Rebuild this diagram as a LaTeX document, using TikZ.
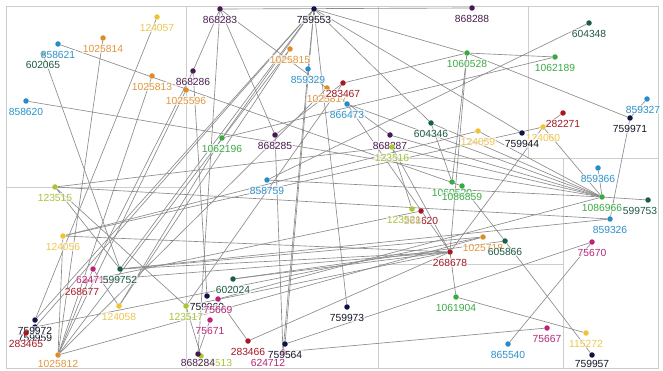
\documentclass[tikz,border=0pt]{standalone}
\usepackage{fontspec}
\setmainfont{Liberation Sans}
\usetikzlibrary{calc}
\pgfdeclarelayer{bg}
\pgfsetlayers{bg,main}
\definecolor{cN}{RGB}{15,20,70}   \definecolor{cNt}{RGB}{20,20,40}
\definecolor{cP}{RGB}{70,25,80}   \definecolor{cPt}{RGB}{75,30,80}
\definecolor{cO}{RGB}{222,140,40} \definecolor{cOt}{RGB}{225,150,60}
\definecolor{cY}{RGB}{240,195,55} \definecolor{cYt}{RGB}{238,198,80}
\definecolor{cB}{RGB}{40,140,200} \definecolor{cBt}{RGB}{45,145,200}
\definecolor{cDG}{RGB}{25,95,65}  \definecolor{cDGt}{RGB}{30,90,65}
\definecolor{cG}{RGB}{55,170,65}  \definecolor{cGt}{RGB}{60,170,70}
\definecolor{cYG}{RGB}{165,200,50}\definecolor{cYGt}{RGB}{170,195,60}
\definecolor{cR}{RGB}{165,25,35}  \definecolor{cRt}{RGB}{160,25,35}
\definecolor{cM}{RGB}{190,35,120} \definecolor{cMt}{RGB}{180,40,120}
\definecolor{edgegray}{RGB}{140,140,140}
\definecolor{gridgray}{RGB}{205,205,205}
\tikzset{
  dot/.style={circle,inner sep=0pt,minimum size=5.5pt,draw=none},
  lbl/.style={inner sep=0.6pt,fill=white,fill opacity=0.65,text opacity=1,
    font=\fontsize{10.3}{12}\selectfont},
  edge/.style={draw=edgegray,line width=0.65pt},
  gridline/.style={draw=gridgray,line width=0.8pt}
}
\newcommand\N[6]{%
  \node[dot,fill=c#4] (n#1) at (#2,#3) {};
  \node[lbl,text=c#4t] (t#1) at (#2+#5,#3+#6) {#1};}
\begin{document}
\begin{tikzpicture}[x=1pt,y=-1pt]
\useasboundingbox (0,0) rectangle (663,371);
% nodes
\N{759553}{314}{9}{N}{0}{10.5}
\N{868283}{220}{9}{P}{0}{10.5}
\N{868288}{472}{8}{P}{0}{10.5}
\N{124057}{157}{17}{Y}{0}{10.5}
\N{1025814}{103}{38}{O}{0}{10.5}
\N{602065}{43}{54}{DG}{0}{11}
\N{858621}{58}{44}{B}{0}{10.5}
\N{1025815}{290}{49}{O}{0}{10.5}
\N{1060528}{467}{53}{G}{0}{10.5}
\N{604348}{589}{23}{DG}{0}{10.5}
\N{1062189}{555}{57}{G}{0}{11}
\N{1025813}{152}{76}{O}{0}{10.5}
\N{868286}{193}{71}{P}{0}{10.5}
\N{859329}{308}{69}{B}{0}{10.5}
\N{1025596}{186}{90}{O}{0}{10.5}
\N{1025817}{327}{88}{O}{0}{10.5}
\N{283467}{343}{83}{R}{0}{10.5}
\N{866473}{347}{104}{B}{0}{10.5}
\N{858620}{26}{101}{B}{0}{11}
\N{859327}{647}{99}{B}{-4}{10.5}
\N{282271}{563}{113}{R}{0}{10.5}
\N{759971}{630}{118}{N}{0}{10.5}
\N{124060}{543}{127}{Y}{0}{10.5}
\N{759944}{522}{133}{N}{0}{10.5}
\N{604346}{431}{123}{DG}{0}{10.5}
\N{124059}{478}{131}{Y}{0}{10.5}
\N{868287}{390}{135}{P}{0}{10.5}
\N{123516}{392}{147}{YG}{0}{10.5}
\N{1062196}{222}{138}{G}{0}{10.5}
\N{868285}{275}{135}{P}{0}{10.5}
\N{858759}{267}{180}{B}{0}{10.5}
\N{859366}{598}{168}{B}{0}{10.5}
\N{1060520}{452}{182}{G}{0}{10.5}
\N{1086859}{462}{186}{G}{0}{10.5}
\N{1086966}{602}{197}{G}{0}{10.5}
\N{599753}{648}{200}{DG}{-8}{10.5}
\N{859326}{610}{219}{B}{0}{10.5}
\N{123515}{55}{187}{YG}{0}{10.5}
\N{268620}{421}{211}{R}{0}{10}
\N{123521}{412}{209}{YG}{-8}{11}
\N{1025718}{483}{237}{O}{0}{10.5}
\N{605866}{505}{241}{DG}{0}{11}
\N{75670}{592}{242}{M}{0}{10.5}
\N{124056}{63}{236}{Y}{0}{10.5}
\N{268678}{450}{252}{R}{0}{10.5}
\N{268677}{86}{281}{R}{-4}{11}
\N{624711}{93}{269}{M}{0}{10.5}
\N{599752}{120}{269}{DG}{0}{10.5}
\N{124058}{119}{306}{Y}{0}{10.5}
\N{602024}{233}{279}{DG}{0}{10.5}
\N{759960}{207}{296}{N}{0}{10.5}
\N{75669}{218}{299}{M}{0}{10.5}
\N{123517}{186}{306}{YG}{0}{10.5}
\N{759973}{347}{307}{N}{0}{10.5}
\N{1061904}{456}{297}{G}{0}{10.5}
\N{75671}{210}{320}{M}{0}{10.5}
\N{759959}{35}{327}{N}{0}{10.5}
\N{759972}{35}{320}{N}{0}{10.5}
\N{283465}{26}{333}{R}{0}{11}
\N{283466}{248}{341}{R}{0}{10.5}
\N{624712}{283}{352}{M}{-15}{10.5}
\N{759564}{285}{344}{N}{0}{10.5}
\N{123513}{201}{356}{YG}{14}{6.5}
\N{868284}{198}{354}{P}{0}{9}
\N{1025812}{58}{355}{O}{0}{9}
\N{865540}{508}{344}{B}{0}{10.5}
\N{75667}{547}{328}{M}{0}{10.5}
\N{115272}{586}{333}{Y}{0}{10.5}
\N{759957}{592}{355}{N}{0}{9}
\begin{pgfonlayer}{bg}
\fill[white] (0,0) rectangle (663,371);
% grid
\draw[gridline] (6,6) rectangle (658,368);
\draw[gridline] (186,6) -- (186,368);
\draw[gridline] (378,6) -- (378,368);
\draw[gridline] (528,6) -- (528,158);
\draw[gridline] (378,158) -- (658,158);
\draw[gridline] (563,158) -- (563,368);
\draw[gridline] (378,264) -- (563,264);
\draw[gridline] (6,187) -- (186,187);
% edges
\foreach \a/\b in {858621/1086859, 602065/599752, 1025814/1025812, 124057/759972,
  1025813/1025812, 858620/1086966, 868283/868286, 868283/868285, 868283/868287,
  868283/868288, 868283/868284, 759553/759972, 759553/759959, 759553/759564,
  759553/759973, 759553/759944, 759553/859329, 759553/604346, 759553/1060528,
  759553/1062196, 759553/599752, 1025815/1025812, 1025815/124058, 1025596/1025812,
  859329/624712, 866473/268678, 866473/1086966, 283467/1060528, 1062196/1062189,
  1060528/1062189, 1060528/1060520, 1060528/268678, 1060528/759971, 604348/858759,
  858759/1086966, 123516/1086966, 604346/1086966, 868287/1086966, 123515/123516,
  123515/859326, 123515/599752, 123515/123517, 124056/124059, 124056/124060,
  124056/268678, 124056/1025812, 268678/268677, 268678/599752, 268678/602024,
  268678/1061904, 268678/123517, 124060/268678, 124060/1086966, 282271/124060,
  759971/859326, 859327/759971, 859366/1086966, 599753/1086966, 605866/759957,
  75670/865540, 759564/75670, 624712/75667, 1061904/115272, 1086859/605866,
  1025718/1025812, 1025718/599752, 759959/1025718, 123516/268678, 123516/123521,
  604346/1060520, 868285/624712, 868285/283467, 75671/868284, 75669/283466,
  283466/268678, 123517/123513, 759960/868286, 75669/1086966, 602024/605866,
  123517/283467, 624711/868286, 624711/1025812, 624711/124058, 1062196/124058,
  599752/859326, 124059/1086966, 1025817/1025812, 268620/268677}
  {\draw[edge] (n\a) -- (n\b);}
\end{pgfonlayer}
\end{tikzpicture}
\end{document}
